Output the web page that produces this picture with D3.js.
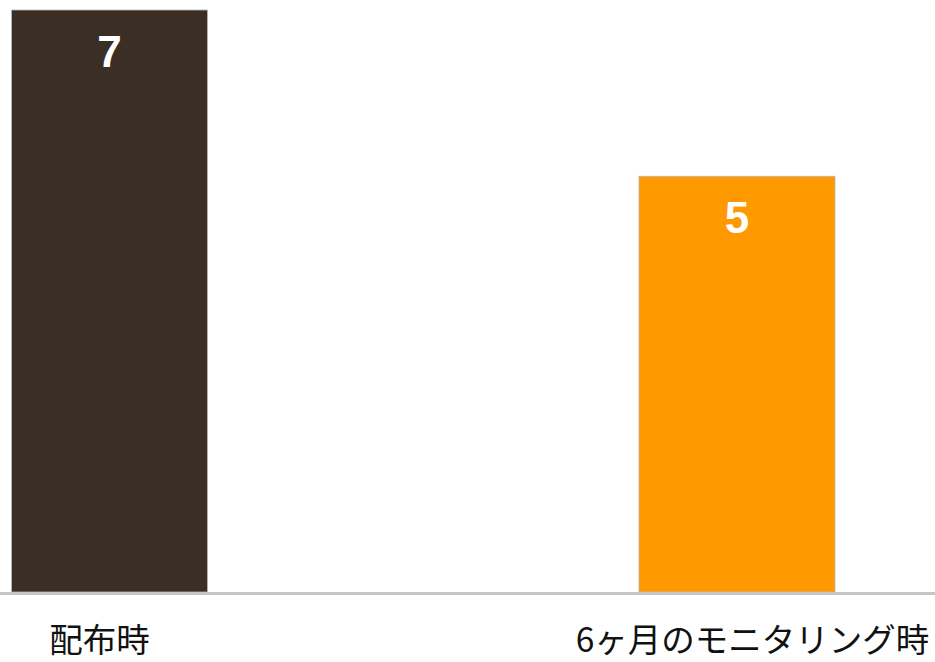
<!DOCTYPE html>
<html>
<head>
<meta charset="utf-8">
<script src="https://cdn.jsdelivr.net/npm/d3@7/dist/d3.min.js"></script>
<style>
  html, body { margin: 0; padding: 0; background: #fff; }
  svg { display: block; }
</style>
</head>
<body>
<svg id="chart" width="935" height="662"></svg>
<script>
// Category names and counts
const categories = ["配布時", "6ヶ月のモニタリング時"];
const values = [7, 5];
const colors = ["#3b2e24", "#ff9900"];

const width = 935, height = 662;
const svg = d3.select("#chart");

// Bar positions along the baseline
const x = d3.scaleBand()
  .domain(categories)
  .range([11.5, 835])
  .paddingInner(0.6876)
  .paddingOuter(0);

// Category labels sit on their own point positions beneath the bars
const xLabel = d3.scalePoint()
  .domain(categories)
  .range([99, 752]);

const y = d3.scaleLinear()
  .domain([0, 7])
  .range([592, 10]);

// Bars
svg.append("g")
  .selectAll("rect")
  .data(categories)
  .join("rect")
  .attr("x", d => x(d))
  .attr("y", (d, i) => y(values[i]))
  .attr("width", x.bandwidth())
  .attr("height", (d, i) => y(0) - y(values[i]))
  .attr("fill", (d, i) => colors[i])
  .attr("stroke", "#b8b8b8")
  .attr("stroke-width", 0.8);

// Value labels inside the top of each bar
svg.append("g")
  .selectAll("text")
  .data(categories)
  .join("text")
  .attr("x", d => x(d) + x.bandwidth() / 2)
  .attr("y", (d, i) => y(values[i]) + 57)
  .attr("text-anchor", "middle")
  .attr("fill", "#ffffff")
  .attr("font-family", "'Liberation Sans', Arial, sans-serif")
  .attr("font-weight", "bold")
  .attr("font-size", 44)
  .text((d, i) => values[i]);

// Baseline
svg.append("line")
  .attr("x1", 0)
  .attr("x2", width)
  .attr("y1", y(0) + 1.5)
  .attr("y2", y(0) + 1.5)
  .attr("stroke", "#c6c6c6")
  .attr("stroke-width", 3);

// Category axis labels
const axis = d3.axisBottom(xLabel).tickSize(0).tickPadding(0);
const gAxis = svg.append("g")
  .attr("transform", `translate(0, ${y(0)})`)
  .call(axis);
gAxis.select(".domain").remove();
gAxis.selectAll("text")
  .attr("dy", null)
  .attr("y", 60)
  .attr("fill", "#111")
  .attr("font-family", "'Noto Sans CJK JP', 'Noto Sans', sans-serif")
  .attr("font-size", 33.5);
</script>
</body>
</html>
